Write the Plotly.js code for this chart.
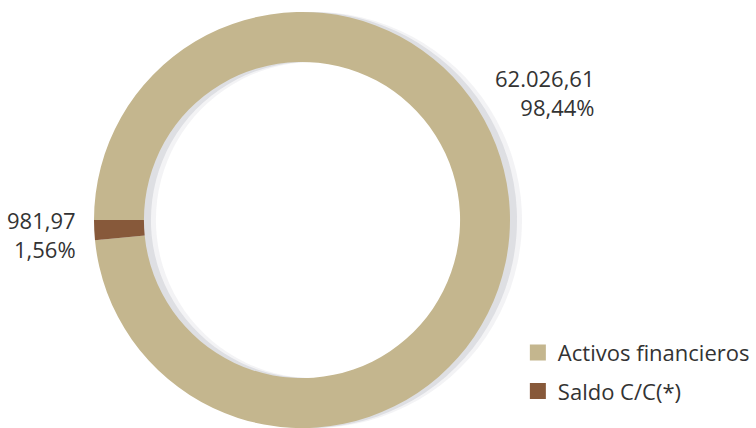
<!DOCTYPE html>
<html><head><meta charset="utf-8">
<script src="https://cdn.plot.ly/plotly-3.0.1.min.js"></script>
<style>html,body{margin:0;padding:0;background:#fff}</style>
</head><body><div id="chart" style="width:756px;height:428px"></div>
<script>
var categories = ["Activos financieros", "Saldo C/C(*)"];
var values = [62026.61, 981.97];
var valueLabels = ["62.026,61", "981,97"];
var percentLabels = ["98,44%", "1,56%"];
var colors = ["#c4b68e", "#87593a"];

var FONT = "Open Sans, Noto Sans, sans-serif";
var W = 756;
var baseDomX = [94 / W, 510 / W];
function shifted(px){ return [baseDomX[0] + px / W, baseDomX[1] + px / W]; }

var traces = [];
// soft drop shadow layers (decorative)
[[12, "rgba(200,202,210,0.22)"], [7, "rgba(190,192,200,0.40)"]].forEach(function(s){
  traces.push({
    type: "pie", labels: categories, values: values, sort: false,
    direction: "clockwise", rotation: -90, hole: 0.76,
    textinfo: "none", hoverinfo: "none", showlegend: false,
    marker: {colors: [s[1], s[1]], line: {width: 0}},
    domain: {x: shifted(s[0]), y: [0, 0.972]}
  });
});
traces.push({
  type: "pie",
  labels: categories,
  values: values,
  sort: false,
  direction: "clockwise",
  rotation: -90,
  hole: 0.76,
  textinfo: "none",
  hoverinfo: "none",
  showlegend: false,
  marker: {colors: colors, line: {width: 0}},
  domain: {x: baseDomX, y: [0, 0.972]}
});
categories.forEach(function(c, i){
  traces.push({type: "scatter", x: [null], y: [null], name: c, mode: "markers",
    legendgroup: "g" + i,
    marker: {symbol: "square", size: 17, color: colors[i]}, showlegend: true, hoverinfo: "none"});
});
var layout = {
  width: 756, height: 428,
  margin: {l: 0, r: 0, t: 0, b: 0},
  paper_bgcolor: "#ffffff", plot_bgcolor: "rgba(0,0,0,0)",
  xaxis: {visible: false}, yaxis: {visible: false},
  showlegend: true,
  legend: {x: 0.685, y: 0.225, xanchor: "left", yanchor: "top", bgcolor: "rgba(0,0,0,0)",
    traceorder: "grouped", tracegroupgap: 7,
    font: {family: FONT, size: 22, color: "#333333"}, itemclick: false},
  annotations: [
    {xref: "paper", yref: "paper", x: 597/756, y: 1 - 92/428, xanchor: "right", yanchor: "middle", align: "right",
     showarrow: false, text: valueLabels[0] + "<br>" + percentLabels[0],
     font: {family: FONT, size: 22, color: "#333333"}},
    {xref: "paper", yref: "paper", x: 78/756, y: 1 - 234/428, xanchor: "right", yanchor: "middle", align: "right",
     showarrow: false, text: valueLabels[1] + "<br>" + percentLabels[1],
     font: {family: FONT, size: 22, color: "#333333"}}
  ]
};
Plotly.newPlot("chart", traces, layout, {displayModeBar: false, staticPlot: true});
</script></body></html>
